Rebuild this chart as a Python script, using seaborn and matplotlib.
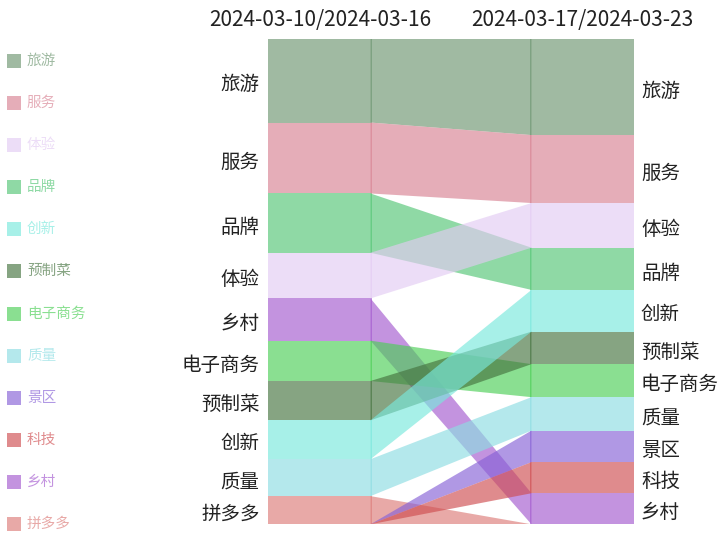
import matplotlib
matplotlib.use("Agg")
import matplotlib.pyplot as plt
import seaborn as sns
import numpy as np
from matplotlib.patches import Rectangle

# 类别与颜色（图例顺序）
categories = ["旅游", "服务", "体验", "品牌", "创新", "预制菜",
              "电子商务", "质量", "景区", "科技", "乡村", "拼多多"]
colors = ["#6d9671", "#d88293", "#e3cbf3", "#53c675", "#79e8dc", "#45733f",
          "#4bcf56", "#8cdde2", "#8661d6", "#cf4d50", "#a45acf", "#dc7c79"]

week_labels = ["2024-03-10/2024-03-16", "2024-03-17/2024-03-23"]

# 每周占比（%），按堆叠顺序从上到下
week1_order = ["旅游", "服务", "品牌", "体验", "乡村", "电子商务",
               "预制菜", "创新", "质量", "拼多多", "景区", "科技"]
week1_values = [17.2, 14.6, 12.2, 9.4, 8.7, 8.3, 8.1, 8.0, 7.6, 5.8, 0.0, 0.0]

week2_order = ["旅游", "服务", "体验", "品牌", "创新", "预制菜",
               "电子商务", "质量", "景区", "科技", "乡村", "拼多多"]
week2_values = [19.8, 14.0, 9.2, 8.7, 8.6, 6.7, 6.8, 6.9, 6.5, 6.4, 6.4, 0.0]

sns.set_theme(style="white")
plt.rcParams['font.family'] = ['Noto Sans CJK SC', 'DejaVu Sans']

ALPHA = 0.65
BAR_W = 1.0
GAP = 1.52
color_of = dict(zip(categories, colors))


def spans(order, values):
    v = np.array(values, dtype=float)
    v = v / v.sum() * 100
    tops = np.concatenate([[0], np.cumsum(v)[:-1]])
    return {c: (t, t + h) for c, t, h in zip(order, tops, v)}


s1 = spans(week1_order, week1_values)
s2 = spans(week2_order, week2_values)

W, H = 719, 534
fig = plt.figure(figsize=(W / 100, H / 100), dpi=100)
ax = fig.add_axes([268 / W, (H - 524.3) / H, (634 - 268) / W, (524.3 - 39) / H])
ax.set_xlim(0, 2 * BAR_W + GAP)
ax.set_ylim(100, 0)
ax.axis('off')

x_left = BAR_W / 2
x_right = BAR_W + GAP + BAR_W / 2

# 堆叠柱
for xc, sp in [(x_left, s1), (x_right, s2)]:
    for c, (t, b) in sp.items():
        if b - t <= 0:
            continue
        ax.bar(xc, b - t, bottom=t, width=BAR_W, color=color_of[c],
               alpha=ALPHA, linewidth=0)

# 连接带
ov = 0.014
for c in week1_order:
    l0, l1 = s1[c]
    r0, r1 = s2[c]
    xa, xb = BAR_W - ov, BAR_W + GAP + ov
    ax.fill([xa, xb, xb, xa], [l0, r0, r1, l1], color=color_of[c],
            alpha=ALPHA, linewidth=0)

# 标签
for c, (t, b) in s1.items():
    if b - t > 0:
        ax.annotate(c, xy=(0, (t + b) / 2), xytext=(-6, -3),
                    textcoords='offset points', ha='right', va='center',
                    fontsize=14, color='#222222')
for c, (t, b) in s2.items():
    if b - t > 0:
        ax.annotate(c, xy=(2 * BAR_W + GAP, (t + b) / 2), xytext=(5, -3),
                    textcoords='offset points', ha='left', va='center',
                    fontsize=14, color='#222222')

for xc, lab in zip([x_left, x_right], week_labels):
    ax.annotate(lab, xy=(xc, 0), xytext=(0, 13.5), textcoords='offset points',
                ha='center', va='center', fontsize=15, color='#222222',
                annotation_clip=False)

# 图例
for i, c in enumerate(categories):
    yc = 60.7 + i * 42.15
    fig.patches.append(Rectangle((7 / W, 1 - (yc + 7) / H), 14 / W, 14 / H,
                                 transform=fig.transFigure, color=color_of[c],
                                 alpha=ALPHA, linewidth=0))
    fig.text(27 / W, 1 - yc / H, c, ha='left', va='center', fontsize=10.5,
             color=color_of[c], alpha=ALPHA)

fig.savefig("out.png", dpi=100)
